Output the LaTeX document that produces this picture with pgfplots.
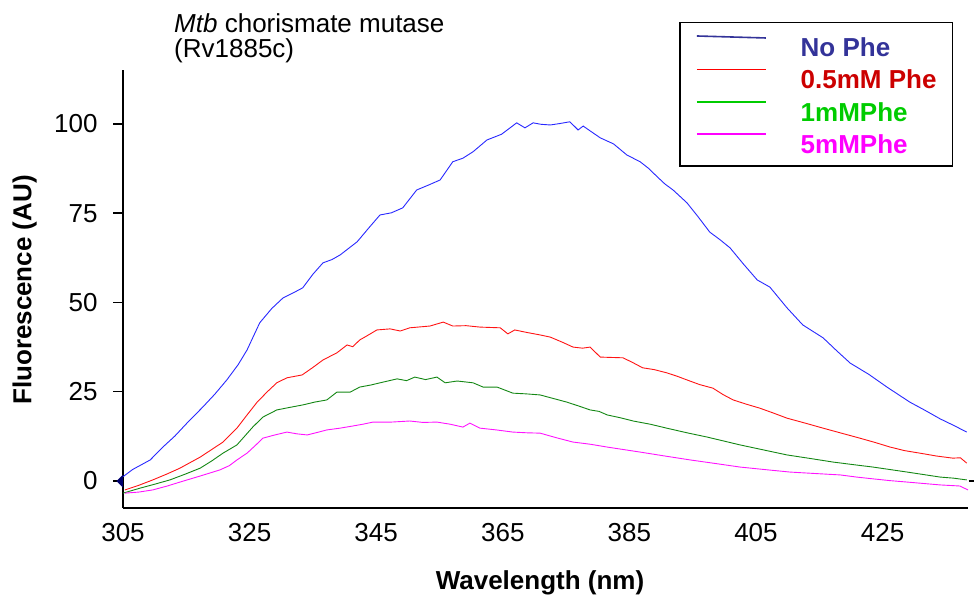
\documentclass[border=0pt]{standalone}
\usepackage{fontspec}
\setmainfont{Liberation Sans}
\usepackage{pgfplots}
\pgfplotsset{compat=1.18}
\definecolor{cblue}{RGB}{40,40,255}
\definecolor{cred}{RGB}{255,20,20}
\definecolor{cgreen}{RGB}{20,135,20}
\definecolor{cmag}{RGB}{255,20,255}
\definecolor{legblue}{RGB}{51,51,153}
\definecolor{legred}{RGB}{204,0,0}
\definecolor{legredline}{RGB}{255,0,0}
\definecolor{leggreen}{RGB}{0,204,0}
\definecolor{legmag}{RGB}{255,0,255}
\definecolor{marknavy}{RGB}{0,0,110}
\pgfdeclareplotmark{halfdiamond}{%
  \pgfpathmoveto{\pgfpoint{0pt}{6.5pt}}%
  \pgfpathlineto{\pgfpoint{-6.5pt}{0pt}}%
  \pgfpathlineto{\pgfpoint{0pt}{-6.5pt}}%
  \pgfpathclose\pgfusepathqfill}
\begin{document}
\begin{tikzpicture}
\path[use as bounding box] (0,0) rectangle (974pt,601pt);
\begin{axis}[
  at={(123pt,93pt)}, anchor=south west,
  scale only axis, width=845pt, height=438pt,
  xmin=305, xmax=438.5, ymin=-7.56, ymax=115.1,
  clip=false,
  axis x line=bottom, axis y line=left,
  axis line style={-, black, line width=1.4pt},
  xtick={305,325,345,365,385,405,425},
  ytick={0,25,50,75,100},
  x tick style={draw=none},
  y tick style={black, line width=1.4pt},
  major tick length=10pt,
  tick align=outside,
  /pgf/number format/assume math mode=true,
  ticklabel style={font=\fontsize{26}{30}\selectfont},
  yticklabel style={xshift=-12pt},
  xticklabel style={yshift=-2pt},
  xlabel={\bfseries Wavelength (nm)},
  ylabel={\bfseries Fluorescence (AU)},
  label style={font=\fontsize{26}{30}\selectfont},
  xlabel style={at={(axis description cs:0.4935,-0.187)}, anchor=base},
  ylabel style={at={(axis description cs:-0.1085,0.4977)}, anchor=base},
  legend cell align=left,
  legend style={at={(axis description cs:0.9825,1.1096)}, anchor=north east,
    draw=black, line width=1.4pt, fill=white,
    font=\fontsize{26}{30}\selectfont\bfseries,
    inner xsep=16pt, inner ysep=12.5pt, row sep=12.1pt,
    nodes={inner sep=0pt, text height=19pt, text depth=0pt},
    /tikz/every odd column/.append style={column sep=34pt}},
]
\addplot[cblue, line width=0.9pt, forget plot] coordinates {
(305,1.2) (306.5,3.2) (309.3,5.9) (311.3,9.5) (313.2,12.6) (315.1,16.2) (317.6,20.7)
(319.5,24.3) (321.4,28.3) (323.2,32.6) (324.6,36.7) (326.6,44.3) (328.5,48.3)
(330.3,51.3) (331.8,52.6) (333.4,54.1) (335.0,57.9) (336.6,61.1) (338.0,62.0)
(339.3,63.3) (342.0,67) (343.8,70.8) (345.6,74.5) (347.4,75.1) (349.2,76.5)
(351.4,81.5) (353.3,82.9) (355.1,84.3) (357.1,89.4) (358.7,90.4) (360.3,92.2)
(362.5,95.5) (364.8,97.1) (367.2,100.3) (368.5,98.9) (369.8,100.3) (371.0,99.9)
(372.5,99.7) (374.0,100.1) (375.6,100.6) (376.9,98.3) (377.7,99.4) (379.0,97.8)
(380.4,96.1) (382.5,94.4) (384.6,91.3) (386.7,89.4) (388.0,87.6) (389.4,85.2)
(390.6,83.2) (391.9,81.5) (394.1,77.9) (395.9,73.9) (397.7,69.7) (399.3,67.6)
(400.9,65.3) (403.0,60.8) (405.2,56.3) (407.2,54.3) (409.9,48.5) (412.4,43.7)
(415.6,40.1) (417.8,36.4) (419.9,33) (422.8,29.9) (425.7,26.3) (429.3,22.1)
(431.7,19.8) (434.1,17.4) (436.2,15.6) (438.3,13.7)};
\addplot[cred, line width=0.9pt, forget plot] coordinates {
(305.3,-2.5) (307.5,-1.2) (309.7,0.3) (312.0,2.0) (314.0,3.6) (317.2,6.7)
(320.8,10.9) (323.0,14.8) (324.6,18.5) (326.2,22.1) (327.8,25.0) (329.3,27.5)
(330.9,28.9) (333.3,29.7) (335.0,31.8) (336.6,33.9) (338.8,35.9) (340.4,38.1)
(341.3,37.6) (342.4,39.5) (343.4,40.5) (345.1,42.3) (347.2,42.6) (348.8,42.0)
(350.3,42.9) (353.5,43.4) (355.6,44.5) (357.1,43.4) (359.2,43.5) (361.4,43.1)
(364.6,42.9) (365.8,41.2) (366.9,42.3) (368.8,41.6) (370.9,40.9) (372.5,40.3)
(374.5,38.8) (376.1,37.5) (377.6,37.2) (378.8,37.5) (380.4,34.7) (382.2,34.6)
(384.0,34.5) (385.6,33.1) (387.1,31.7) (388.9,31.2) (390.9,30.3) (392.6,29.3)
(394.1,28.3) (396.1,27.0) (398.2,26) (399.8,24.2) (401.4,22.7) (403.5,21.5)
(405.6,20.4) (407.8,19.0) (409.9,17.6) (412.8,16.2) (415.6,14.8) (418.5,13.4)
(421.4,12) (423.8,10.8) (426.2,9.5) (428.5,8.5) (430.9,7.8) (433.5,7.0)
(436.1,6.4) (437.3,6.5) (438.3,5)};
\addplot[cgreen, line width=0.9pt, forget plot] coordinates {
(305,-3.4) (307.7,-2) (310.0,-0.9) (312.4,0.3) (314.8,1.9) (317.2,3.6)
(319.0,5.6) (320.8,7.8) (323.0,10.1) (325.5,15.1) (327.1,17.9) (329.3,19.9)
(331.3,20.6) (333.4,21.3) (335.3,22.1) (337.2,22.7) (338.8,24.9) (340.9,24.9)
(342.4,26.3) (344.2,26.9) (346.1,27.7) (348.3,28.6) (349.8,28.1) (351.1,29.1)
(352.8,28.4) (354.6,29.1) (355.9,27.5) (357.8,28) (360.3,27.5) (361.9,26.3)
(364.1,26.3) (366.6,24.6) (368.7,24.4) (370.9,24.1) (373.0,23.1) (375.1,22.1)
(377.0,21.0) (378.8,19.9) (380.2,19.5) (381.5,18.5) (383.6,17.7) (385.6,16.8)
(388.3,15.9) (390.9,14.8) (394.1,13.5) (397.3,12.3) (399.9,11.2) (402.5,10.1)
(406.2,8.7) (409.9,7.3) (413.6,6.3) (417.2,5.3) (420.3,4.6) (423.5,3.9)
(426.2,3.2) (428.9,2.5) (431.5,1.8) (434.1,1.1) (436.2,0.8) (438.3,0.3)};
\addplot[cmag, line width=0.9pt, forget plot] coordinates {
(305.3,-3.4) (307.5,-3.1) (309.7,-2.5) (312.0,-1.4) (314.0,-0.3) (317.2,1.4)
(320.3,3.1) (321.8,4.3) (323.0,5.9) (324.6,7.8) (326.0,10.1) (327.1,12)
(329.0,12.9) (330.9,13.7) (332.5,13.2) (334.1,12.9) (335.7,13.6) (337.2,14.3)
(339.3,14.8) (341.3,15.4) (342.9,15.9) (344.5,16.5) (347.4,16.5) (350.3,16.8)
(352.4,16.4) (354.6,16.5) (356.7,15.9) (358.7,15.1) (359.8,16.2) (361.4,14.8)
(364.0,14.3) (366.6,13.7) (368.8,13.5) (370.9,13.4) (373.5,12.1) (376.1,10.9)
(378.8,10.3) (381.5,9.5) (384.1,8.8) (386.7,8.1) (390.6,7.0) (394.6,5.9)
(398.6,4.9) (402.5,3.9) (406.4,3.2) (410.4,2.5) (414.3,2.1) (418.3,1.7)
(420.9,1.1) (423.5,0.6) (426.2,0.1) (428.9,-0.3) (431.5,-0.7) (434.1,-1.1)
(437.2,-1.4) (438.5,-2.5)};
\addplot[only marks, mark=halfdiamond, marknavy, forget plot] coordinates {(305,0)};
\addplot[black, line width=1.6pt, forget plot] coordinates {(438.6,0) (439.5,0)};
\addlegendimage{legend image code/.code={\draw[legblue, line width=1.6pt] (3pt,11pt) -- (72pt,9pt);}}
\addlegendentry{\textcolor{legblue}{No Phe}}
\addlegendimage{legend image code/.code={\draw[legredline, line width=1.6pt] (3pt,10pt) -- (72pt,10pt);}}
\addlegendentry{\textcolor{legred}{0.5mM Phe}}
\addlegendimage{legend image code/.code={\draw[leggreen, line width=1.6pt] (3pt,10pt) -- (72pt,10pt);}}
\addlegendentry{\textcolor{leggreen}{1mMPhe}}
\addlegendimage{legend image code/.code={\draw[legmag, line width=1.6pt] (3pt,10pt) -- (72pt,10pt);}}
\addlegendentry{\textcolor{legmag}{5mMPhe}}
\node[anchor=base west, align=left, inner sep=0pt, font=\fontsize{26}{25}\selectfont]
  at (axis description cs:0.0604,1.0274) {\textit{Mtb} chorismate mutase\\(Rv1885c)};
\end{axis}
\end{tikzpicture}
\end{document}
